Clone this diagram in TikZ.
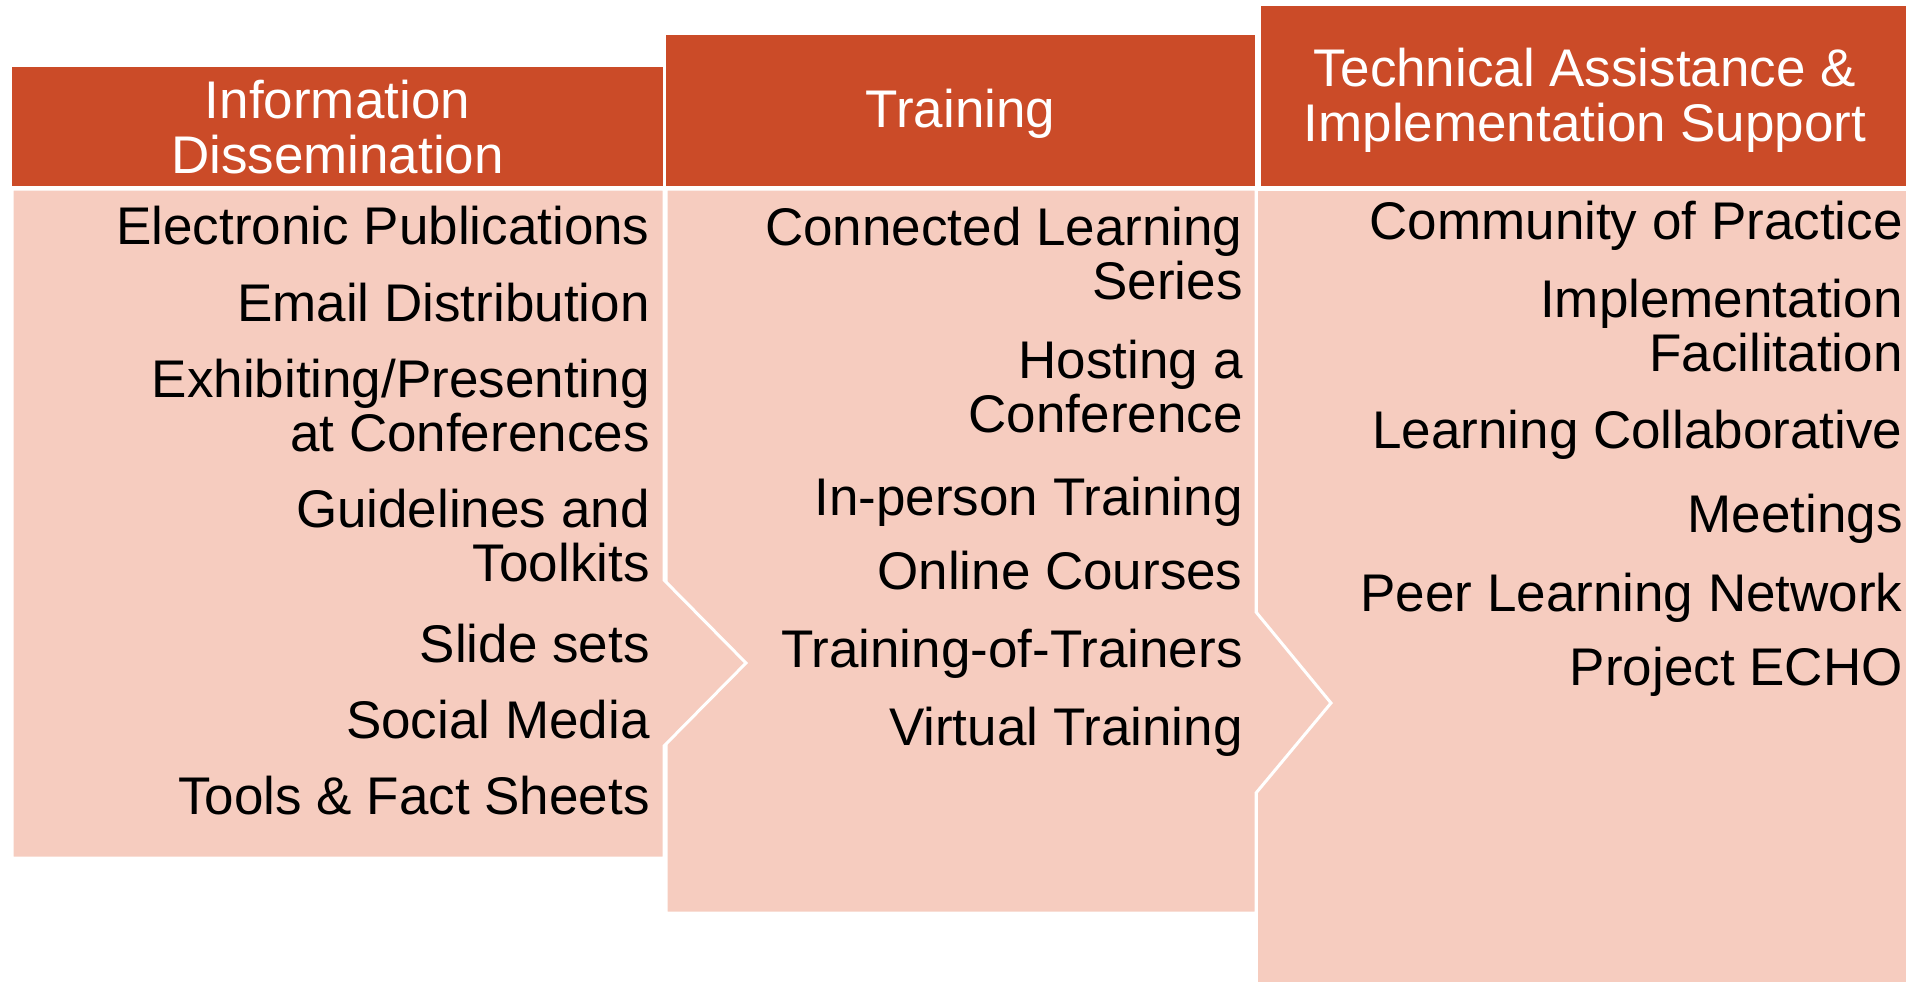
\documentclass[tikz,border=0pt]{standalone}
\usepackage{fontspec}
\setmainfont{Liberation Sans}
\definecolor{headorange}{RGB}{203,75,40}
\definecolor{bodypink}{RGB}{246,204,191}
\tikzstyle{head} = [text=white, align=center, anchor=base, inner sep=0pt, font=\fontsize{26.5}{27.5}\selectfont]
\tikzstyle{item} = [align=right, anchor=base east, inner sep=0pt, font=\fontsize{26.5}{27}\selectfont]
\tikzstyle{panel} = [fill=bodypink, draw=white, line width=1.5pt]

\begin{document}
\begin{tikzpicture}[x=0.5pt, y=-0.5pt]
\useasboundingbox (0,0) rectangle (1906,981);

% panels, last one on top
\filldraw[panel] (1256,189) -- (1912,189) -- (1912,987) -- (1256,987) -- cycle;
\filldraw[panel] (666,189) -- (1256,189) -- (1256,612) -- (1331,703) -- (1256,793) -- (1256,913) -- (666,913) -- cycle;
\filldraw[panel] (12,189) -- (664,189) -- (664,580) -- (746,663) -- (664,746) -- (664,858) -- (12,858) -- cycle;

% headers
\fill[headorange] (12,67) rectangle (663,186);
\fill[headorange] (666,35) rectangle (1255,186);
\fill[headorange] (1261,6) rectangle (1906,186);

% multi-line nodes sit on their last baseline
\node[head] (infohead) at (337.5,173) {Information\\Dissemination};
\node[head] (trainhead) at (960.5,127) {Training};
\node[head] (tahead) at (1585,141) {Technical Assistance \&\\Implementation Support};

% information dissemination
\node[item] (epub) at (650,244) {Electronic Publications};
\node[item] (email) at (650,321) {Email Distribution};
\node[item] (exhib) at (650,451) {Exhibiting/Presenting\\at Conferences};
\node[item] (guide) at (650,581) {Guidelines and\\Toolkits};
\node[item] (slides) at (650,662) {Slide sets};
\node[item] (social) at (650,738) {Social Media};
\node[item] (facts) at (650,814) {Tools \& Fact Sheets};

% training
\node[item] (series) at (1243,299) {Connected Learning\\Series};
\node[item] (host) at (1243,432) {Hosting a\\Conference};
\node[item] (inperson) at (1243,515) {In-person Training};
\node[item] (online) at (1243,589) {Online Courses};
\node[item] (tot) at (1243,667) {Training-of-Trainers};
\node[item] (virtual) at (1243,745) {Virtual Training};

% technical assistance
\node[item] (cop) at (1903,239) {Community of Practice};
\node[item] (facil) at (1903,371) {Implementation\\Facilitation};
\node[item] (collab) at (1903,448) {Learning Collaborative};
\node[item] (meet) at (1903,532) {Meetings};
\node[item] (peer) at (1903,611) {Peer Learning Network};
\node[item] (echo) at (1903,685) {Project ECHO};

\end{tikzpicture}
\end{document}
